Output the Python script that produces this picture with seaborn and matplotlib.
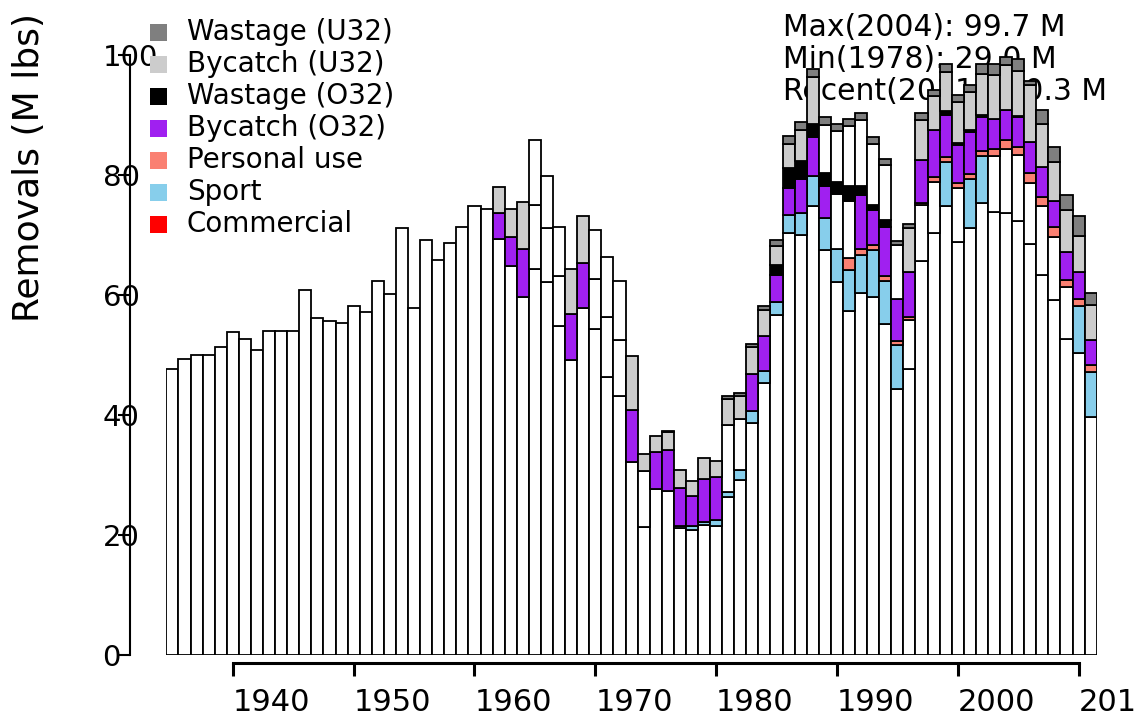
import numpy as np
import pandas as pd
import matplotlib
matplotlib.use("Agg")
import matplotlib.pyplot as plt
import seaborn as sns
from matplotlib.patches import Rectangle

# removals by year, M lbs
years = list(range(1935, 2012))

commercial = [47.7, 49.3, 50.0, 50.0, 51.3, 53.9, 52.6, 50.9, 54.0, 54.0,
              54.0, 60.8, 56.2, 55.7, 55.4, 58.1, 57.1, 62.3, 60.1, 71.2,
              57.9, 69.2, 65.8, 68.7, 71.4, 74.9, 74.3, 69.3, 64.9, 59.6,
              64.4, 62.1, 54.9, 49.2, 57.9, 54.4, 46.4, 43.1, 32.2, 21.4,
              27.7, 27.4, 21.2, 20.9, 21.7, 21.5, 26.4, 29.2, 38.7, 45.4,
              56.7, 70.3, 70.0, 74.9, 67.5, 62.1, 57.4, 60.4, 59.7, 55.1,
              44.3, 47.6, 65.7, 70.4, 74.9, 68.9, 71.2, 75.3, 73.8, 73.6,
              72.3, 68.5, 63.3, 59.1, 52.6, 50.3, 39.7]
sport = [0.0] * 42 + [0.3, 0.6, 0.4, 1.0, 0.8, 1.6, 1.9, 1.9, 2.2, 3.0,
                      3.6, 5.0, 5.3, 5.5, 6.7, 6.3, 7.8, 7.3, 7.4, 8.3,
                      9.3, 8.5, 7.3, 8.9, 8.1, 7.9, 9.4, 10.7, 11.0, 10.2,
                      11.6, 10.6, 8.7, 7.8, 7.4]
personal = [0.0] * 56 + [2.0, 0.9, 0.9, 0.8, 0.6, 0.5, 0.4, 0.8, 0.8, 0.8,
                         0.9, 0.8, 1.2, 1.5, 1.4, 1.7, 1.5, 1.6, 1.2, 1.3, 1.2]
bycatch_o32 = [0.0] * 27 + [4.4, 4.7, 8.0, 10.6, 9.0, 8.3, 7.6, 7.5, 8.3, 10.0,
                            9.4, 8.6, 9.2, 6.2, 6.8, 6.4, 5.0, 7.2, 7.2, 11.1,
                            8.5, 6.3, 5.8, 4.4, 4.5, 5.8, 6.5, 5.3, 9.2, 9.5,
                            9.1, 5.7, 8.1, 7.1, 7.5, 7.1, 7.8, 7.0, 6.4, 7.0,
                            5.7, 5.0, 5.0, 4.9, 5.1, 5.0, 4.4, 4.7, 4.4, 4.2]
wastage_o32 = [0.0] * 50 + [1.7, 3.3, 2.9, 2.1, 2.2, 2.1, 2.5, 1.4, 0.9, 1.2,
                            0.0, 0.0, 0.0, 0.0, 0.7, 0.4, 0.3, 0.3, 0.0, 0.0,
                            0.3, 0.0, 0.0, 0.0, 0.0, 0.0, 0.0]
bycatch_u32 = [0.0] * 27 + [4.3, 4.7, 7.9, 10.8, 8.7, 8.2, 7.6, 7.8, 8.1, 10.0,
                            9.8, 9.0, 2.9, 2.6, 2.9, 2.9, 2.5, 3.5, 2.7, 4.3,
                            3.9, 4.4, 4.4, 3.2, 4.1, 5.2, 7.9, 8.0, 8.4, 10.0,
                            11.1, 10.2, 9.1, 9.0, 7.2, 6.7, 5.7, 6.5, 6.8, 6.4,
                            6.9, 7.3, 7.5, 7.5, 9.5, 7.1, 6.5, 7.0, 6.0, 5.9]
wastage_u32 = [0.0] * 41 + [0.3, 0.0, 0.0, 0.0, 0.0, 0.5, 0.4, 0.5, 0.6, 0.9,
                            1.3, 1.3, 1.3, 1.3, 1.2, 1.2, 1.2, 1.2, 1.0, 0.6,
                            0.7, 1.1, 1.0, 1.3, 1.1, 1.1, 1.6, 1.8, 1.4, 1.9,
                            0.6, 2.3, 2.4, 2.5, 3.4, 1.9]

# years where a segment shows up without fill in the original
unfilled_sport = [1996, 1997, 1998, 2000, 2003, 2004, 2005, 2006, 2007, 2008, 2009]
unfilled_o32 = [1965, 1966, 1967, 1970, 1971, 1972, 1974, 1981, 1982, 1990, 1991]
unfilled_u32 = [1965, 1966, 1967, 1970, 1971, 1972, 1989, 1990, 1991, 1992, 1993, 1994, 1995]

tick_years = [1940, 1950, 1960, 1970, 1980, 1990, 2000, 2010]
notes = ["Max(2004): 99.7 M", "Min(1978): 29.0 M", "Recent(2011): 60.3 M"]

df = pd.DataFrame({"year": years, "Commercial": commercial, "Sport": sport,
                   "Personal use": personal, "Bycatch (O32)": bycatch_o32,
                   "Wastage (O32)": wastage_o32, "Bycatch (U32)": bycatch_u32,
                   "Wastage (U32)": wastage_u32})

# layer: (column, bar fill, legend colour, unfilled years)
layers = [("Commercial", "white", "#FF0000", []),
          ("Sport", "#87CEEB", "#87CEEB", unfilled_sport),
          ("Personal use", "#FA8072", "#FA8072", []),
          ("Bycatch (O32)", "#A020F0", "#A020F0", unfilled_o32),
          ("Wastage (O32)", "black", "black", []),
          ("Bycatch (U32)", "#CCCCCC", "#CCCCCC", unfilled_u32),
          ("Wastage (U32)", "#7F7F7F", "#7F7F7F", [])]

sns.set_style("ticks")
plt.rcParams["font.family"] = ["DejaVu Sans"]
plt.rcParams.update({"text.color": "black", "axes.edgecolor": "black",
                     "xtick.color": "black", "ytick.color": "black",
                     "axes.labelcolor": "black"})

W, H = 1136, 719
fig = plt.figure(figsize=(W / 100, H / 100), dpi=100)
ax = fig.add_axes([166.4 / W, 64 / H, 930.3 / W, 600 / H])
ax.patch.set_alpha(0)

bottom = np.zeros(len(df))
for name, fill, _, blank in layers:
    vals = df[name].to_numpy()
    keep = vals > 0
    sub = df[keep]
    n0 = len(ax.patches)
    sns.barplot(x=sub["year"], y=vals[keep], order=years, bottom=bottom[keep],
                color=fill, saturation=1, width=1, edgecolor="black",
                linewidth=1.3, errorbar=None, ax=ax)
    for p, yr in zip(ax.patches[n0:], sub["year"]):
        if yr in blank:
            p.set_facecolor("white")
    bottom += vals

ax.set_xlim(-0.5, len(years) - 0.5)
ax.set_ylim(0, 100)
ax.set_xlabel("")
ax.set_ylabel("")
sns.despine(ax=ax)

# R-style detached axes, labels start at the tick
ax.spines["left"].set_position(("outward", 26))
ax.spines["left"].set_bounds(0, 100)
ax.spines["left"].set_linewidth(1.5)
ax.set_yticks(range(0, 101, 20))
ax.tick_params(axis="y", length=8.5, width=1.5, pad=11.5, labelsize=21)
for t in ax.get_yticklabels():
    t.set_ha("left")

xpos = [years.index(y) for y in tick_years]
ax.set_xticks(xpos)
ax.set_xticklabels([str(y) for y in tick_years])
ax.spines["bottom"].set_position(("outward", 6))
ax.spines["bottom"].set_bounds(xpos[0], xpos[-1])
ax.spines["bottom"].set_linewidth(2.2)
ax.tick_params(axis="x", length=9.5, width=2.2, pad=8, labelsize=22)
for t in ax.get_xticklabels():
    t.set_ha("left")

fig.text(29 / W, 1 - 168 / H, "Removals (M lbs)", rotation=90,
         ha="center", va="center", fontsize=26)

# legend, top entry first
for i, (name, _, lcol, _) in enumerate(layers[::-1]):
    yc = 32 + 32 * i
    fig.patches.append(Rectangle((150 / W, 1 - (yc + 8.5) / H), 17 / W, 17 / H,
                                 transform=fig.transFigure, facecolor=lcol,
                                 edgecolor="none"))
    fig.text(187 / W, 1 - yc / H, name, ha="left", va="center", fontsize=20)

for i, s in enumerate(notes):
    ax.text(783 / W, 1 - (28 + 32 * i) / H, s, transform=fig.transFigure,
            ha="left", va="center", fontsize=21.5, zorder=0.5, clip_on=False)

fig.savefig("out.png", dpi=100)
